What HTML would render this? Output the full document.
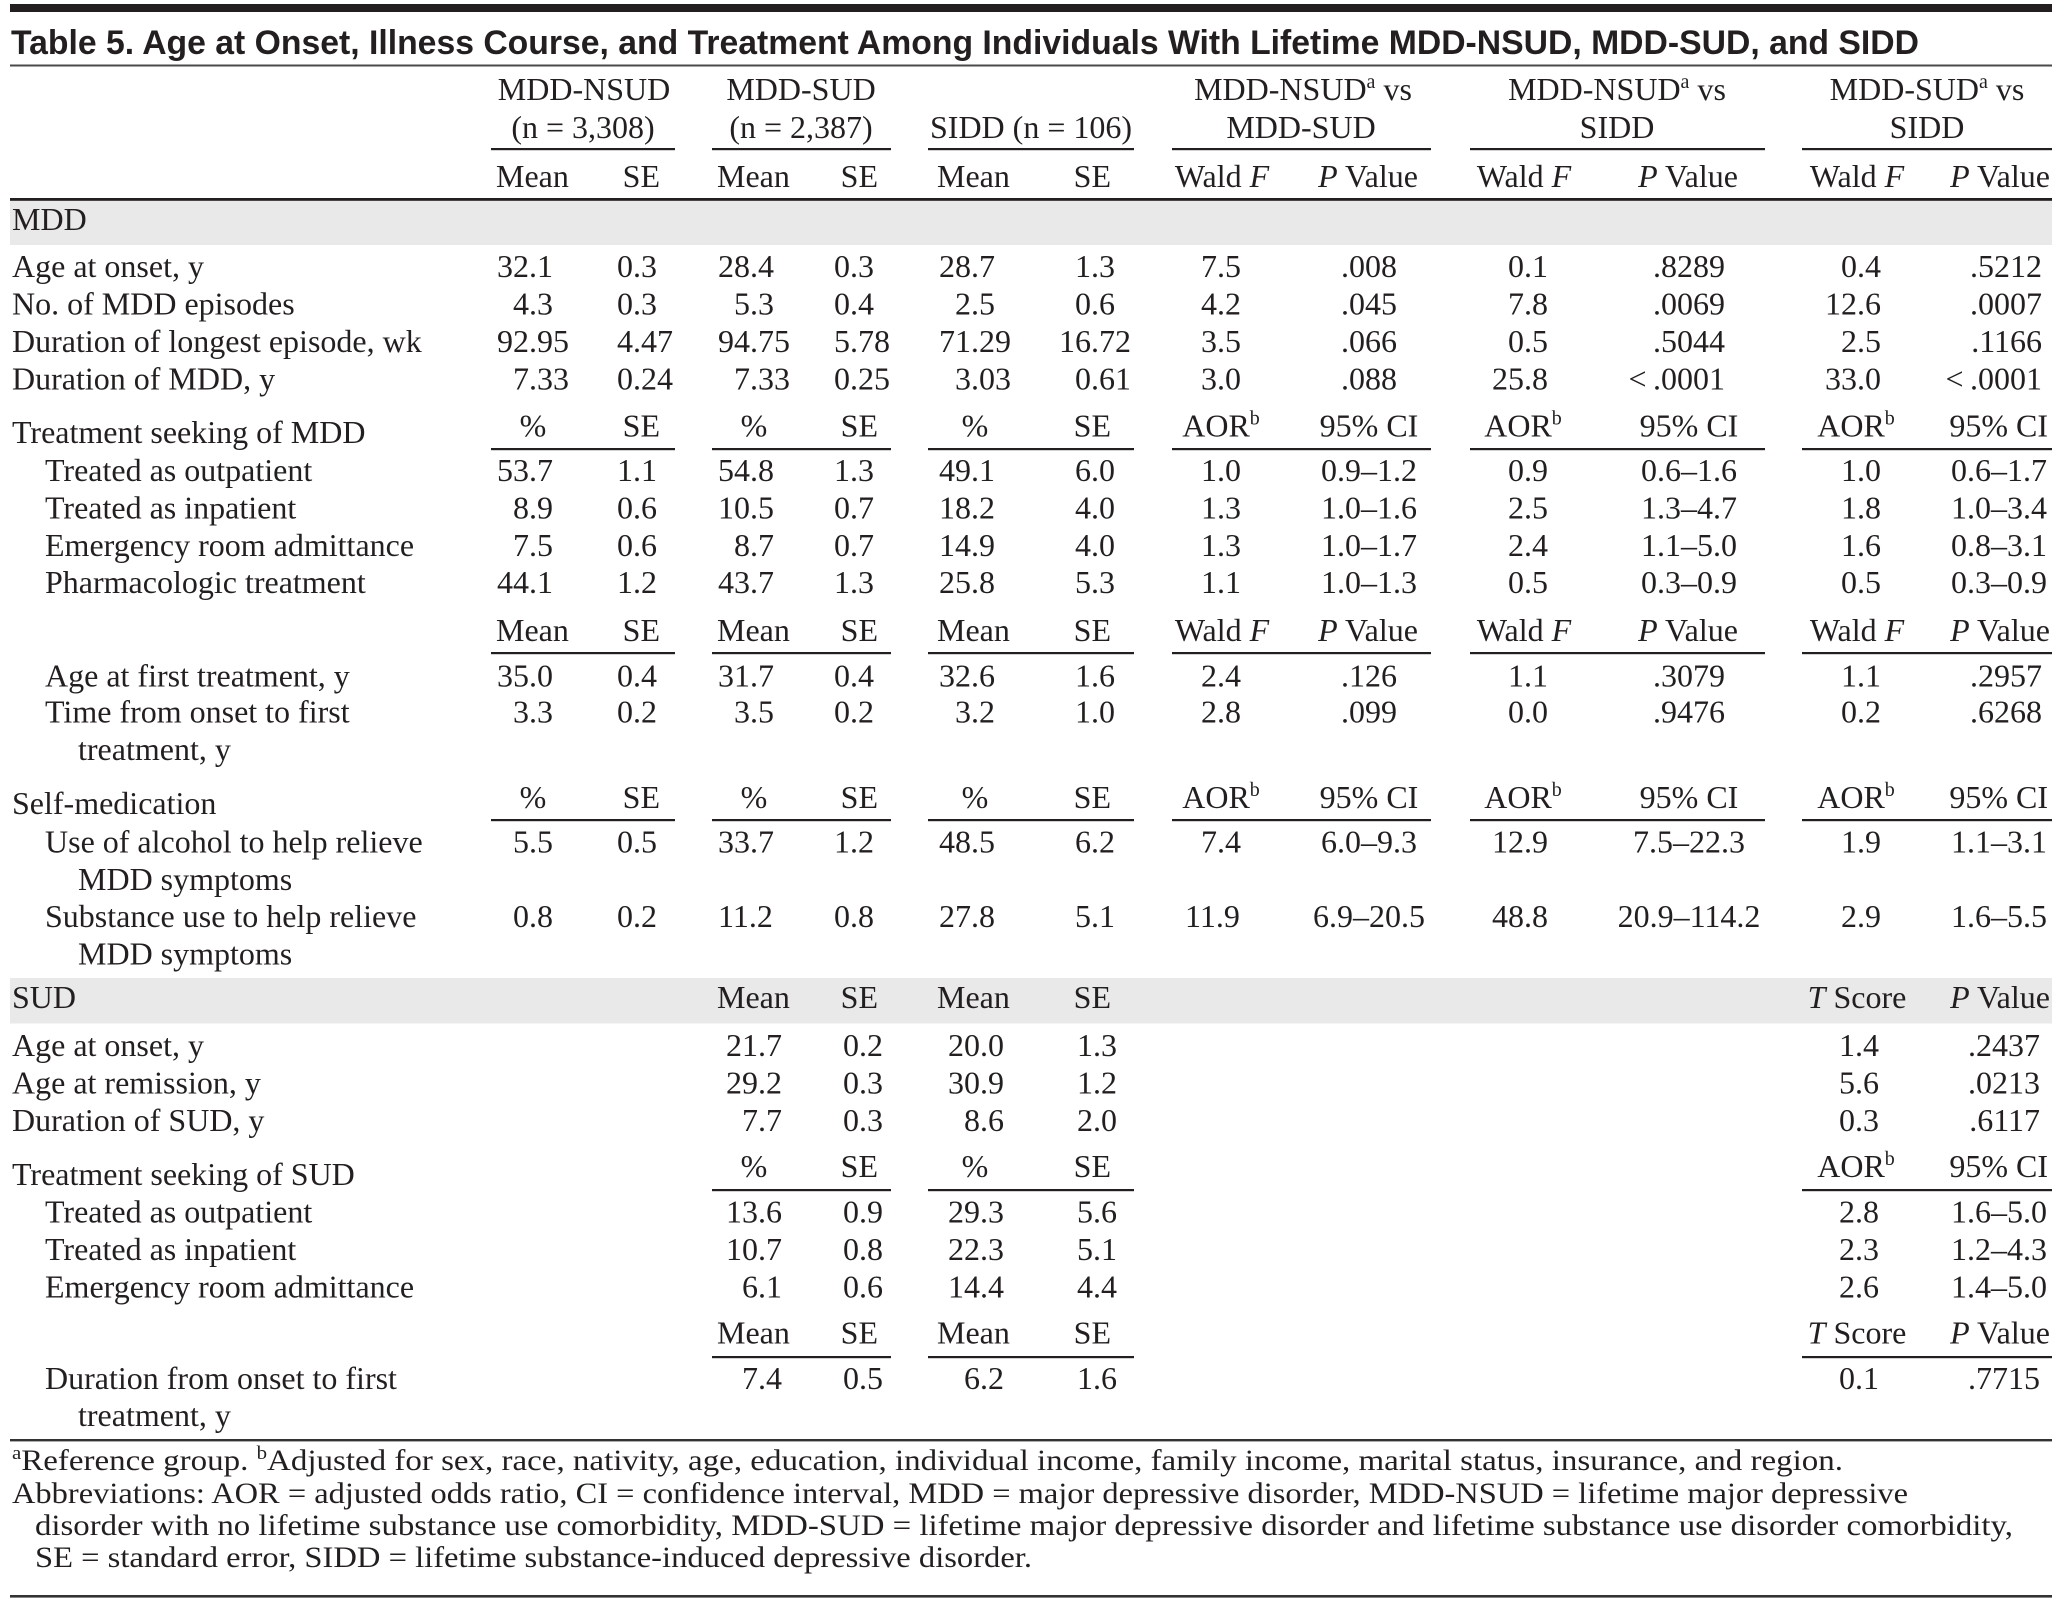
<!DOCTYPE html>
<html>
<head>
<meta charset="utf-8">
<style>
html,body{margin:0;padding:0;background:#fff;}
svg{display:block;}
.m{text-anchor:middle;}
.e{text-anchor:end;}
</style>
</head>
<body>
<svg xmlns="http://www.w3.org/2000/svg" width="2062" height="1601" viewBox="0 0 2062 1601">
<rect x="0" y="0" width="2062" height="1601" fill="#fff"/>
<!-- top bar and title -->
<rect x="10" y="4" width="2042" height="8" fill="#231f20"/>
<text x="11" y="54" font-family="'Liberation Sans', sans-serif" font-weight="bold" font-size="34" fill="#231f20" textLength="1908" lengthAdjust="spacingAndGlyphs">Table 5. Age at Onset, Illness Course, and Treatment Among Individuals With Lifetime MDD-NSUD, MDD-SUD, and SIDD</text>
<rect x="10" y="64.5" width="2042" height="2" fill="#4a4a4a"/>

<!-- gray bands -->
<rect x="10" y="200.5" width="2042" height="44.5" fill="#e9e9e9"/>
<rect x="10" y="978" width="2042" height="45.5" fill="#e9e9e9"/>

<!-- rules -->
<rect x="10" y="198" width="2042" height="2.8" fill="#231f20"/>
<g fill="#231f20">
<!-- header underlines -->
<rect x="491" y="148" width="184" height="2.2"/>
<rect x="712" y="148" width="179" height="2.2"/>
<rect x="928" y="148" width="206" height="2.2"/>
<rect x="1172" y="148" width="259" height="2.2"/>
<rect x="1470" y="148" width="295" height="2.2"/>
<rect x="1802" y="148" width="250" height="2.2"/>
<!-- 449 -->
<rect x="491" y="448" width="184" height="2.2"/>
<rect x="712" y="448" width="179" height="2.2"/>
<rect x="928" y="448" width="206" height="2.2"/>
<rect x="1172" y="448" width="259" height="2.2"/>
<rect x="1470" y="448" width="295" height="2.2"/>
<rect x="1802" y="448" width="250" height="2.2"/>
<!-- 653 -->
<rect x="491" y="652" width="184" height="2.2"/>
<rect x="712" y="652" width="179" height="2.2"/>
<rect x="928" y="652" width="206" height="2.2"/>
<rect x="1172" y="652" width="259" height="2.2"/>
<rect x="1470" y="652" width="295" height="2.2"/>
<rect x="1802" y="652" width="250" height="2.2"/>
<!-- 820 -->
<rect x="491" y="819" width="184" height="2.2"/>
<rect x="712" y="819" width="179" height="2.2"/>
<rect x="928" y="819" width="206" height="2.2"/>
<rect x="1172" y="819" width="259" height="2.2"/>
<rect x="1470" y="819" width="295" height="2.2"/>
<rect x="1802" y="819" width="250" height="2.2"/>
<!-- SUD 1190 -->
<rect x="712" y="1189" width="179" height="2.2"/>
<rect x="928" y="1189" width="206" height="2.2"/>
<rect x="1802" y="1189" width="250" height="2.2"/>
<!-- SUD 1357 -->
<rect x="712" y="1356" width="179" height="2.2"/>
<rect x="928" y="1356" width="206" height="2.2"/>
<rect x="1802" y="1356" width="250" height="2.2"/>
</g>
<rect x="10" y="1439" width="2042" height="2.4" fill="#333"/>
<rect x="10" y="1595" width="2042" height="2.6" fill="#333"/>

<g font-family="'Liberation Serif', serif" font-size="32" fill="#231f20">
<!-- column headers -->
<text x="584" y="100" class="m">MDD-NSUD</text>
<text x="583" y="138" class="m">(n = 3,308)</text>
<text x="801" y="100" class="m">MDD-SUD</text>
<text x="801" y="138" class="m">(n = 2,387)</text>
<text x="1031" y="138" class="m">SIDD (n = 106)</text>
<text x="1303" y="100" class="m">MDD-NSUD<tspan font-size="20" dy="-12">a</tspan><tspan dy="12">  vs</tspan></text>
<text x="1301" y="138" class="m">MDD-SUD</text>
<text x="1617" y="100" class="m">MDD-NSUD<tspan font-size="20" dy="-12">a</tspan><tspan dy="12"> vs</tspan></text>
<text x="1617" y="138" class="m">SIDD</text>
<text x="1927" y="100" class="m">MDD-SUD<tspan font-size="20" dy="-12">a</tspan><tspan dy="12"> vs</tspan></text>
<text x="1927" y="138" class="m">SIDD</text>

<!-- header row 3 (187) -->
<text x="496" y="187">Mean</text><text x="660" y="187" class="e">SE</text>
<text x="717" y="187">Mean</text><text x="878" y="187" class="e">SE</text>
<text x="937" y="187">Mean</text><text x="1111" y="187" class="e">SE</text>
<text x="1222" y="187" class="m">Wald <tspan font-style="italic">F</tspan></text>
<text x="1368" y="187" class="m"><tspan font-style="italic">P</tspan> Value</text>
<text x="1524" y="187" class="m">Wald <tspan font-style="italic">F</tspan></text>
<text x="1688" y="187" class="m"><tspan font-style="italic">P</tspan> Value</text>
<text x="1857" y="187" class="m">Wald <tspan font-style="italic">F</tspan></text>
<text x="2000" y="187" class="m"><tspan font-style="italic">P</tspan> Value</text>

<!-- labels -->
<text x="12" y="230">MDD</text>
<text x="12" y="277">Age at onset, y</text>
<text x="12" y="314.5">No. of MDD episodes</text>
<text x="12" y="352">Duration of longest episode, wk</text>
<text x="12" y="389.5">Duration of MDD, y</text>
<text x="12" y="443">Treatment seeking of MDD</text>
<text x="45" y="481">Treated as outpatient</text>
<text x="45" y="518.5">Treated as inpatient</text>
<text x="45" y="556">Emergency room admittance</text>
<text x="45" y="593">Pharmacologic treatment</text>
<text x="45" y="686.5">Age at first treatment, y</text>
<text x="45" y="722.5">Time from onset to first</text>
<text x="78" y="760">treatment, y</text>
<text x="12" y="814">Self-medication</text>
<text x="45" y="852.5">Use of alcohol to help relieve</text>
<text x="78" y="890">MDD symptoms</text>
<text x="45" y="927">Substance use to help relieve</text>
<text x="78" y="964.5">MDD symptoms</text>
<text x="12" y="1008">SUD</text>
<text x="12" y="1056">Age at onset, y</text>
<text x="12" y="1093.5">Age at remission, y</text>
<text x="12" y="1131">Duration of SUD, y</text>
<text x="12" y="1185">Treatment seeking of SUD</text>
<text x="45" y="1222.5">Treated as outpatient</text>
<text x="45" y="1260">Treated as inpatient</text>
<text x="45" y="1297.5">Emergency room admittance</text>
<text x="45" y="1389">Duration from onset to first</text>
<text x="78" y="1426">treatment, y</text>

<!-- MDD rows -->
<text x="497" y="277">32.1</text><text x="617" y="277">0.3</text>
<text x="718" y="277">28.4</text><text x="834" y="277">0.3</text>
<text x="939" y="277">28.7</text><text x="1075" y="277">1.3</text>
<text x="1201" y="277">7.5</text><text x="1369" y="277" class="m">.008</text>
<text x="1508" y="277">0.1</text><text x="1725" y="277" class="e">.8289</text>
<text x="1841" y="277">0.4</text><text x="2042" y="277" class="e">.5212</text>

<text x="513" y="314.5">4.3</text><text x="617" y="314.5">0.3</text>
<text x="734" y="314.5">5.3</text><text x="834" y="314.5">0.4</text>
<text x="955" y="314.5">2.5</text><text x="1075" y="314.5">0.6</text>
<text x="1201" y="314.5">4.2</text><text x="1369" y="314.5" class="m">.045</text>
<text x="1508" y="314.5">7.8</text><text x="1725" y="314.5" class="e">.0069</text>
<text x="1825" y="314.5">12.6</text><text x="2042" y="314.5" class="e">.0007</text>

<text x="497" y="352">92.95</text><text x="617" y="352">4.47</text>
<text x="718" y="352">94.75</text><text x="834" y="352">5.78</text>
<text x="939" y="352">71.29</text><text x="1059" y="352">16.72</text>
<text x="1201" y="352">3.5</text><text x="1369" y="352" class="m">.066</text>
<text x="1508" y="352">0.5</text><text x="1725" y="352" class="e">.5044</text>
<text x="1841" y="352">2.5</text><text x="2042" y="352" class="e">.1166</text>

<text x="513" y="389.5">7.33</text><text x="617" y="389.5">0.24</text>
<text x="734" y="389.5">7.33</text><text x="834" y="389.5">0.25</text>
<text x="955" y="389.5">3.03</text><text x="1075" y="389.5">0.61</text>
<text x="1201" y="389.5">3.0</text><text x="1369" y="389.5" class="m">.088</text>
<text x="1492" y="389.5">25.8</text><text x="1725" y="389.5" class="e">&lt;&#8201;.0001</text>
<text x="1825" y="389.5">33.0</text><text x="2042" y="389.5" class="e">&lt;&#8201;.0001</text>

<!-- header 436.5 -->
<text x="533" y="436.5" class="m">%</text><text x="660" y="436.5" class="e">SE</text>
<text x="754" y="436.5" class="m">%</text><text x="878" y="436.5" class="e">SE</text>
<text x="975" y="436.5" class="m">%</text><text x="1111" y="436.5" class="e">SE</text>
<text x="1221" y="436.5" class="m">AOR<tspan font-size="20" dy="-12">b</tspan></text>
<text x="1369" y="436.5" class="m">95% CI</text>
<text x="1523" y="436.5" class="m">AOR<tspan font-size="20" dy="-12">b</tspan></text>
<text x="1689" y="436.5" class="m">95% CI</text>
<text x="1856" y="436.5" class="m">AOR<tspan font-size="20" dy="-12">b</tspan></text>
<text x="2048" y="436.5" class="e">95% CI</text>

<text x="497" y="481">53.7</text><text x="617" y="481">1.1</text>
<text x="718" y="481">54.8</text><text x="834" y="481">1.3</text>
<text x="939" y="481">49.1</text><text x="1075" y="481">6.0</text>
<text x="1201" y="481">1.0</text><text x="1369" y="481" class="m">0.9–1.2</text>
<text x="1508" y="481">0.9</text><text x="1689" y="481" class="m">0.6–1.6</text>
<text x="1841" y="481">1.0</text><text x="2047" y="481" class="e">0.6–1.7</text>

<text x="513" y="518.5">8.9</text><text x="617" y="518.5">0.6</text>
<text x="718" y="518.5">10.5</text><text x="834" y="518.5">0.7</text>
<text x="939" y="518.5">18.2</text><text x="1075" y="518.5">4.0</text>
<text x="1201" y="518.5">1.3</text><text x="1369" y="518.5" class="m">1.0–1.6</text>
<text x="1508" y="518.5">2.5</text><text x="1689" y="518.5" class="m">1.3–4.7</text>
<text x="1841" y="518.5">1.8</text><text x="2047" y="518.5" class="e">1.0–3.4</text>

<text x="513" y="556">7.5</text><text x="617" y="556">0.6</text>
<text x="734" y="556">8.7</text><text x="834" y="556">0.7</text>
<text x="939" y="556">14.9</text><text x="1075" y="556">4.0</text>
<text x="1201" y="556">1.3</text><text x="1369" y="556" class="m">1.0–1.7</text>
<text x="1508" y="556">2.4</text><text x="1689" y="556" class="m">1.1–5.0</text>
<text x="1841" y="556">1.6</text><text x="2047" y="556" class="e">0.8–3.1</text>

<text x="497" y="593">44.1</text><text x="617" y="593">1.2</text>
<text x="718" y="593">43.7</text><text x="834" y="593">1.3</text>
<text x="939" y="593">25.8</text><text x="1075" y="593">5.3</text>
<text x="1201" y="593">1.1</text><text x="1369" y="593" class="m">1.0–1.3</text>
<text x="1508" y="593">0.5</text><text x="1689" y="593" class="m">0.3–0.9</text>
<text x="1841" y="593">0.5</text><text x="2047" y="593" class="e">0.3–0.9</text>

<!-- header 641 -->
<text x="496" y="641">Mean</text><text x="660" y="641" class="e">SE</text>
<text x="717" y="641">Mean</text><text x="878" y="641" class="e">SE</text>
<text x="937" y="641">Mean</text><text x="1111" y="641" class="e">SE</text>
<text x="1222" y="641" class="m">Wald <tspan font-style="italic">F</tspan></text>
<text x="1368" y="641" class="m"><tspan font-style="italic">P</tspan> Value</text>
<text x="1524" y="641" class="m">Wald <tspan font-style="italic">F</tspan></text>
<text x="1688" y="641" class="m"><tspan font-style="italic">P</tspan> Value</text>
<text x="1857" y="641" class="m">Wald <tspan font-style="italic">F</tspan></text>
<text x="2000" y="641" class="m"><tspan font-style="italic">P</tspan> Value</text>

<text x="497" y="686.5">35.0</text><text x="617" y="686.5">0.4</text>
<text x="718" y="686.5">31.7</text><text x="834" y="686.5">0.4</text>
<text x="939" y="686.5">32.6</text><text x="1075" y="686.5">1.6</text>
<text x="1201" y="686.5">2.4</text><text x="1369" y="686.5" class="m">.126</text>
<text x="1508" y="686.5">1.1</text><text x="1725" y="686.5" class="e">.3079</text>
<text x="1841" y="686.5">1.1</text><text x="2042" y="686.5" class="e">.2957</text>

<text x="513" y="722.5">3.3</text><text x="617" y="722.5">0.2</text>
<text x="734" y="722.5">3.5</text><text x="834" y="722.5">0.2</text>
<text x="955" y="722.5">3.2</text><text x="1075" y="722.5">1.0</text>
<text x="1201" y="722.5">2.8</text><text x="1369" y="722.5" class="m">.099</text>
<text x="1508" y="722.5">0.0</text><text x="1725" y="722.5" class="e">.9476</text>
<text x="1841" y="722.5">0.2</text><text x="2042" y="722.5" class="e">.6268</text>

<!-- header 808 -->
<text x="533" y="808" class="m">%</text><text x="660" y="808" class="e">SE</text>
<text x="754" y="808" class="m">%</text><text x="878" y="808" class="e">SE</text>
<text x="975" y="808" class="m">%</text><text x="1111" y="808" class="e">SE</text>
<text x="1221" y="808" class="m">AOR<tspan font-size="20" dy="-12">b</tspan></text>
<text x="1369" y="808" class="m">95% CI</text>
<text x="1523" y="808" class="m">AOR<tspan font-size="20" dy="-12">b</tspan></text>
<text x="1689" y="808" class="m">95% CI</text>
<text x="1856" y="808" class="m">AOR<tspan font-size="20" dy="-12">b</tspan></text>
<text x="2048" y="808" class="e">95% CI</text>

<text x="513" y="852.5">5.5</text><text x="617" y="852.5">0.5</text>
<text x="718" y="852.5">33.7</text><text x="834" y="852.5">1.2</text>
<text x="939" y="852.5">48.5</text><text x="1075" y="852.5">6.2</text>
<text x="1201" y="852.5">7.4</text><text x="1369" y="852.5" class="m">6.0–9.3</text>
<text x="1492" y="852.5">12.9</text><text x="1689" y="852.5" class="m">7.5–22.3</text>
<text x="1841" y="852.5">1.9</text><text x="2047" y="852.5" class="e">1.1–3.1</text>

<text x="513" y="927">0.8</text><text x="617" y="927">0.2</text>
<text x="718" y="927">11.2</text><text x="834" y="927">0.8</text>
<text x="939" y="927">27.8</text><text x="1075" y="927">5.1</text>
<text x="1185" y="927">11.9</text><text x="1369" y="927" class="m">6.9–20.5</text>
<text x="1492" y="927">48.8</text><text x="1689" y="927" class="m">20.9–114.2</text>
<text x="1841" y="927">2.9</text><text x="2047" y="927" class="e">1.6–5.5</text>

<!-- SUD header 1008 -->
<text x="717" y="1008">Mean</text><text x="878" y="1008" class="e">SE</text>
<text x="937" y="1008">Mean</text><text x="1111" y="1008" class="e">SE</text>
<text x="1857" y="1008" class="m"><tspan font-style="italic">T</tspan> Score</text>
<text x="2000" y="1008" class="m"><tspan font-style="italic">P</tspan> Value</text>

<text x="726" y="1056">21.7</text><text x="843" y="1056">0.2</text>
<text x="948" y="1056">20.0</text><text x="1077" y="1056">1.3</text>
<text x="1839" y="1056">1.4</text><text x="2040" y="1056" class="e">.2437</text>

<text x="726" y="1093.5">29.2</text><text x="843" y="1093.5">0.3</text>
<text x="948" y="1093.5">30.9</text><text x="1077" y="1093.5">1.2</text>
<text x="1839" y="1093.5">5.6</text><text x="2040" y="1093.5" class="e">.0213</text>

<text x="742" y="1131">7.7</text><text x="843" y="1131">0.3</text>
<text x="964" y="1131">8.6</text><text x="1077" y="1131">2.0</text>
<text x="1839" y="1131">0.3</text><text x="2040" y="1131" class="e">.6117</text>

<!-- SUD header 1177 -->
<text x="754" y="1177" class="m">%</text><text x="878" y="1177" class="e">SE</text>
<text x="975" y="1177" class="m">%</text><text x="1111" y="1177" class="e">SE</text>
<text x="1856" y="1177" class="m">AOR<tspan font-size="20" dy="-12">b</tspan></text>
<text x="2048" y="1177" class="e">95% CI</text>

<text x="726" y="1222.5">13.6</text><text x="843" y="1222.5">0.9</text>
<text x="948" y="1222.5">29.3</text><text x="1077" y="1222.5">5.6</text>
<text x="1839" y="1222.5">2.8</text><text x="2047" y="1222.5" class="e">1.6–5.0</text>

<text x="726" y="1260">10.7</text><text x="843" y="1260">0.8</text>
<text x="948" y="1260">22.3</text><text x="1077" y="1260">5.1</text>
<text x="1839" y="1260">2.3</text><text x="2047" y="1260" class="e">1.2–4.3</text>

<text x="742" y="1297.5">6.1</text><text x="843" y="1297.5">0.6</text>
<text x="948" y="1297.5">14.4</text><text x="1077" y="1297.5">4.4</text>
<text x="1839" y="1297.5">2.6</text><text x="2047" y="1297.5" class="e">1.4–5.0</text>

<!-- SUD header 1343.5 -->
<text x="717" y="1343.5">Mean</text><text x="878" y="1343.5" class="e">SE</text>
<text x="937" y="1343.5">Mean</text><text x="1111" y="1343.5" class="e">SE</text>
<text x="1857" y="1343.5" class="m"><tspan font-style="italic">T</tspan> Score</text>
<text x="2000" y="1343.5" class="m"><tspan font-style="italic">P</tspan> Value</text>

<text x="742" y="1389">7.4</text><text x="843" y="1389">0.5</text>
<text x="964" y="1389">6.2</text><text x="1077" y="1389">1.6</text>
<text x="1839" y="1389">0.1</text><text x="2040" y="1389" class="e">.7715</text>
</g>

<!-- footnotes -->
<g font-family="'Liberation Serif', serif" font-size="30" fill="#231f20">
<text x="12" y="1470" textLength="1831" lengthAdjust="spacingAndGlyphs"><tspan font-size="19" dy="-11">a</tspan><tspan dy="11">Reference group.  </tspan><tspan font-size="19" dy="-11">b</tspan><tspan dy="11">Adjusted for sex, race, nativity, age, education, individual income, family income, marital status, insurance, and region.</tspan></text>
<text x="12" y="1503" textLength="1896" lengthAdjust="spacingAndGlyphs">Abbreviations: AOR = adjusted odds ratio, CI = confidence interval, MDD = major depressive disorder, MDD-NSUD = lifetime major depressive</text>
<text x="35" y="1535" textLength="1978" lengthAdjust="spacingAndGlyphs">disorder with no lifetime substance use comorbidity, MDD-SUD = lifetime major depressive disorder and lifetime substance use disorder comorbidity,</text>
<text x="35" y="1567" textLength="997" lengthAdjust="spacingAndGlyphs">SE = standard error, SIDD = lifetime substance-induced depressive disorder.</text>
</g>
</svg>
</body>
</html>
